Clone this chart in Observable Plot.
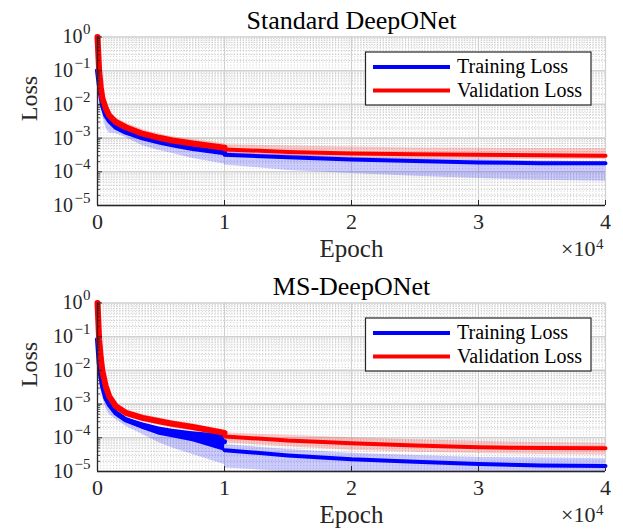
<!DOCTYPE html>
<html><head><meta charset="utf-8">
<script src="https://cdn.jsdelivr.net/npm/d3@7"></script>
<script src="https://cdn.jsdelivr.net/npm/@observablehq/plot@0.6"></script>
<style>
body{margin:0;background:#fff;}
#chart{width:623px;height:529px;overflow:hidden;}
#chart svg{display:block;}
</style></head><body><div id="chart"></div>
<script>
// ---- data ----
const epochs = [0,130,260,390,650,920,1440,2230,3540,4860,5900,7500,10000, 10000,15000,20000,25000,30000,35000,40000];
const splitIndex = 13; // second 10000 starts the second training stage

const titles = ["Standard DeepONet", "MS-DeepONet"];
const seriesNames = ["Training Loss", "Validation Loss"];
const xTickValues = [0, 10000, 20000, 30000, 40000];
const yTickValues = [1e-5, 1e-4, 1e-3, 1e-2, 1e-1, 1];

const stdTrain   = [1.0e-1,4.07e-2,1.82e-2,9.3e-3,4.7e-3,3.3e-3,2.1e-3,1.5e-3,1.02e-3,7.6e-4,6.3e-4,4.9e-4,3.7e-4, 3.2e-4,2.7e-4,2.3e-4,2.1e-4,1.9e-4,1.8e-4,1.78e-4];
const stdVal     = [1.0,1.0e-1,3.2e-2,1.5e-2,7.6e-3,4.7e-3,3.0e-3,2.1e-3,1.35e-3,1.02e-3,8.5e-4,6.9e-4,5.2e-4, 4.6e-4,3.9e-4,3.5e-4,3.3e-4,3.2e-4,3.1e-4,3.0e-4];
const stdTrainLo = [7.9e-2,2.5e-2,1.1e-2,5.0e-3,2.1e-3,1.4e-3,1.35e-3,1.05e-3,5.9e-4,4.3e-4,3.5e-4,2.5e-4,1.7e-4, 1.6e-4,1.1e-4,8.9e-5,7.4e-5,6.3e-5,5.6e-5,5.2e-5];
const stdTrainHi = [1.17e-1,4.8e-2,2.1e-2,1.1e-2,5.5e-3,3.9e-3,2.5e-3,1.8e-3,1.2e-3,8.9e-4,7.4e-4,5.8e-4,4.4e-4, 3.8e-4,3.2e-4,2.7e-4,2.5e-4,2.3e-4,2.1e-4,2.0e-4];
const stdValLo   = [7.1e-1,6.3e-2,2.0e-2,1.0e-2,5.0e-3,3.2e-3,2.0e-3,1.5e-3,1.0e-3,7.6e-4,6.3e-4,5.0e-4,3.8e-4, 2.7e-4,2.6e-4,2.5e-4,2.4e-4,2.3e-4,2.3e-4,2.3e-4];
const stdValHi   = [1.0,1.26e-1,4.2e-2,2.0e-2,1.05e-2,6.3e-3,4.0e-3,2.8e-3,1.8e-3,1.35e-3,1.1e-3,9.1e-4,6.9e-4, 6.5e-4,5.8e-4,5.4e-4,5.1e-4,5.0e-4,4.9e-4,4.9e-4];

const msTrain   = [8.3e-2,1.66e-2,6.8e-3,3.4e-3,1.5e-3,9.8e-4,5.5e-4,3.4e-4,2.2e-4,1.6e-4,1.35e-4,1.05e-4,7.6e-5, 4.3e-5,3.0e-5,2.3e-5,1.95e-5,1.66e-5,1.5e-5,1.45e-5];
const msVal     = [1.0,8.3e-2,2.3e-2,9.3e-3,3.4e-3,1.7e-3,8.7e-4,5.5e-4,3.9e-4,3.1e-4,2.6e-4,2.1e-4,1.4e-4, 1.1e-4,8.3e-5,6.9e-5,5.9e-5,5.2e-5,5.0e-5,4.9e-5];
const msTrainLo = [6.3e-2,1.0e-2,3.2e-3,1.6e-3,7.9e-4,5.0e-4,3.5e-4,2.2e-4,1.26e-4,7.1e-5,5.0e-5,3.2e-5,1.6e-5, 1.26e-5,1.0e-5,7.9e-6,7.1e-6,6.3e-6,6.0e-6,5.6e-6];
const msTrainHi = [1.0e-1,2.0e-2,8.1e-3,4.1e-3,1.8e-3,1.2e-3,6.6e-4,4.1e-4,2.7e-4,1.9e-4,1.6e-4,1.26e-4,9.1e-5, 6.3e-5,4.5e-5,3.5e-5,3.0e-5,2.6e-5,2.5e-5,2.4e-5];
const msValLo   = [7.6e-1,6.3e-2,1.8e-2,7.1e-3,2.6e-3,1.3e-3,6.6e-4,4.2e-4,3.0e-4,2.3e-4,1.95e-4,1.6e-4,1.05e-4, 7.1e-5,5.4e-5,4.3e-5,3.7e-5,3.4e-5,3.2e-5,3.1e-5];
const msValHi   = [1.0,1.05e-1,3.0e-2,1.2e-2,4.3e-3,2.1e-3,1.1e-3,6.9e-4,4.9e-4,3.9e-4,3.2e-4,2.6e-4,1.7e-4, 1.4e-4,1.2e-4,1.0e-4,8.7e-5,7.9e-5,7.2e-5,6.9e-5];
// oscillation envelope of the MS training loss during the first stage
const msTrainNoiseHi = [8.3e-2,1.66e-2,7.1e-3,3.6e-3,1.66e-3,1.1e-3,6.3e-4,4.0e-4,2.8e-4,2.1e-4,1.8e-4,1.5e-4,1.26e-4];
const msTrainNoiseLo = [8.3e-2,1.66e-2,6.5e-3,3.2e-3,1.4e-3,8.7e-4,4.8e-4,3.0e-4,1.8e-4,1.2e-4,1.0e-4,7.6e-5,4.0e-5];

// ---- layout / style ----
const W = 623, ML = 97, MR = 18, MT = 36.5, PH = 168.5;
const PW = W - ML - MR;
const BLUE = "#0000ff", RED = "#ff0000", AX = "#262626";
const FONT = "'Liberation Serif', 'Times New Roman', serif";

const yMinor = [];
for (const d of yTickValues.slice(0, -1)) for (let k = 2; k <= 9; k++) yMinor.push(k * d);
const xMinor = d3.range(0, 40001, 250);

function expStr(d) {
  const e = Math.round(Math.log10(d));
  return e < 0 ? "\u2212" + (-e) : String(e);
}

function addLegend(svg) {
  const g = d3.select(svg).append("g").attr("text-anchor", "start");
  const x0 = 365.5, y0 = 52, w = 225.5, h = 53;
  g.append("rect").attr("x", x0).attr("y", y0).attr("width", w).attr("height", h)
    .attr("fill", "#fff").attr("stroke", AX).attr("stroke-width", 1.2);
  const items = [[seriesNames[0], BLUE, 67], [seriesNames[1], RED, 90.5]];
  for (const [name, col, y] of items) {
    g.append("line").attr("x1", 373).attr("x2", 450).attr("y1", y).attr("y2", y)
      .attr("stroke", col).attr("stroke-width", 4);
    g.append("text").attr("x", 457).attr("y", y).attr("dy", "0.32em").attr("text-anchor", "start")
      .attr("font-size", 20).attr("font-family", FONT).attr("fill", "#000").text(name);
  }
}

function makePlot(title, S, height) {
  const rows = epochs.map((e, i) => ({
    epoch: e, phase: i < splitIndex ? 1 : 2,
    train: S.train[i], val: S.val[i],
    tLo: S.trainLo[i], tHi: S.trainHi[i], vLo: S.valLo[i], vHi: S.valHi[i],
    nLo: S.noiseLo ? S.noiseLo[i] : undefined, nHi: S.noiseHi ? S.noiseHi[i] : undefined
  }));
  const p1 = rows.filter(d => d.phase === 1);
  const p2 = rows.filter(d => d.phase === 2);
  const marks = [
    Plot.ruleX(xMinor, {stroke: "#c8c8c8", strokeWidth: 0.8, strokeDasharray: "1.2,1.6"}),
    Plot.ruleY(yMinor, {stroke: "#bdbdbd", strokeWidth: 0.8, strokeDasharray: "1.2,1.6"}),
    Plot.ruleY(yTickValues, {stroke: "#d0d0d0", strokeWidth: 1.6}),
    Plot.ruleX(xTickValues, {stroke: "#d0d0d0", strokeWidth: 1.2}),
    Plot.areaY(rows, {x: "epoch", y1: "tLo", y2: "tHi", z: "phase", fill: BLUE, fillOpacity: 0.2, clip: true}),
    Plot.areaY(rows, {x: "epoch", y1: "vLo", y2: "vHi", z: "phase", fill: RED, fillOpacity: 0.2, clip: true}),
  ];
  if (S.noiseLo) marks.push(Plot.areaY(p1, {x: "epoch", y1: "nLo", y2: "nHi", fill: BLUE}));
  marks.push(
    Plot.line(p1, {x: "epoch", y: "train", stroke: BLUE, strokeWidth: 5}),
    Plot.line(p2, {x: "epoch", y: "train", stroke: BLUE, strokeWidth: 4}),
    Plot.line(p1, {x: "epoch", y: "val", stroke: RED, strokeWidth: 6}),
    Plot.line(p2, {x: "epoch", y: "val", stroke: RED, strokeWidth: 4}),
    Plot.ruleX([0], {stroke: AX, strokeWidth: 1.3}),
    Plot.ruleY([1e-5], {stroke: AX, strokeWidth: 1.3}),
    Plot.tickY(yTickValues, {stroke: AX, strokeWidth: 1, insetRight: PW - 5}),
    Plot.tickY(yMinor, {stroke: AX, strokeWidth: 0.8, insetRight: PW - 3}),
    Plot.tickX(xTickValues, {stroke: AX, strokeWidth: 1, insetTop: PH - 5}),
    // y tick labels "10" with superscript exponent, positioned by the y scale
    Plot.text(yTickValues, {y: d => d, frameAnchor: "left", dx: -7, dy: -7.4, textAnchor: "end", lineAnchor: "middle", fontSize: 15, fill: AX, text: expStr}),
    Plot.text(yTickValues.filter(d => d >= 1), {y: d => d, frameAnchor: "left", dx: -15, textAnchor: "end", lineAnchor: "middle", fontSize: 20, fill: AX, text: () => "10"}),
    Plot.text(yTickValues.filter(d => d < 1), {y: d => d, frameAnchor: "left", dx: -24.5, textAnchor: "end", lineAnchor: "middle", fontSize: 20, fill: AX, text: () => "10"}),
    // x tick labels
    Plot.text(xTickValues, {x: d => d, frameAnchor: "bottom", dy: 8, lineAnchor: "top", fontSize: 22, fill: AX, text: d => String(d / 1e4)}),
    Plot.text([title], {frameAnchor: "top", lineAnchor: "middle", dy: -16, fontSize: 26, fill: "#000", text: d => d}),
    Plot.text(["Loss"], {frameAnchor: "left", lineAnchor: "middle", dx: -68, rotate: -90, fontSize: 24, fill: AX, text: d => d}),
    Plot.text(["Epoch"], {frameAnchor: "bottom", lineAnchor: "middle", dy: 43.5, fontSize: 25, fill: AX, text: d => d}),
    Plot.text(["\u00d710"], {frameAnchor: "bottom-right", lineAnchor: "middle", dy: 43, dx: -10, textAnchor: "end", fontSize: 22, fill: AX, text: d => d}),
    Plot.text(["4"], {frameAnchor: "bottom-right", lineAnchor: "middle", dy: 38.5, dx: -2, textAnchor: "end", fontSize: 15, fill: AX, text: d => d})
  );
  const svg = Plot.plot({
    width: W, height,
    marginLeft: ML, marginRight: MR, marginTop: MT, marginBottom: height - MT - PH,
    style: {fontFamily: FONT, background: "#fff", overflow: "visible"},
    x: {domain: [0, 40000], axis: null},
    y: {type: "log", domain: [1e-5, 1], axis: null},
    marks
  });
  addLegend(svg);
  return svg;
}

const chart = document.getElementById("chart");
chart.appendChild(makePlot(titles[0], {
  train: stdTrain, val: stdVal, trainLo: stdTrainLo, trainHi: stdTrainHi, valLo: stdValLo, valHi: stdValHi
}, 266));
chart.appendChild(makePlot(titles[1], {
  train: msTrain, val: msVal, trainLo: msTrainLo, trainHi: msTrainHi, valLo: msValLo, valHi: msValHi,
  noiseLo: msTrainNoiseLo, noiseHi: msTrainNoiseHi
}, 263));
</script>
</body></html>
